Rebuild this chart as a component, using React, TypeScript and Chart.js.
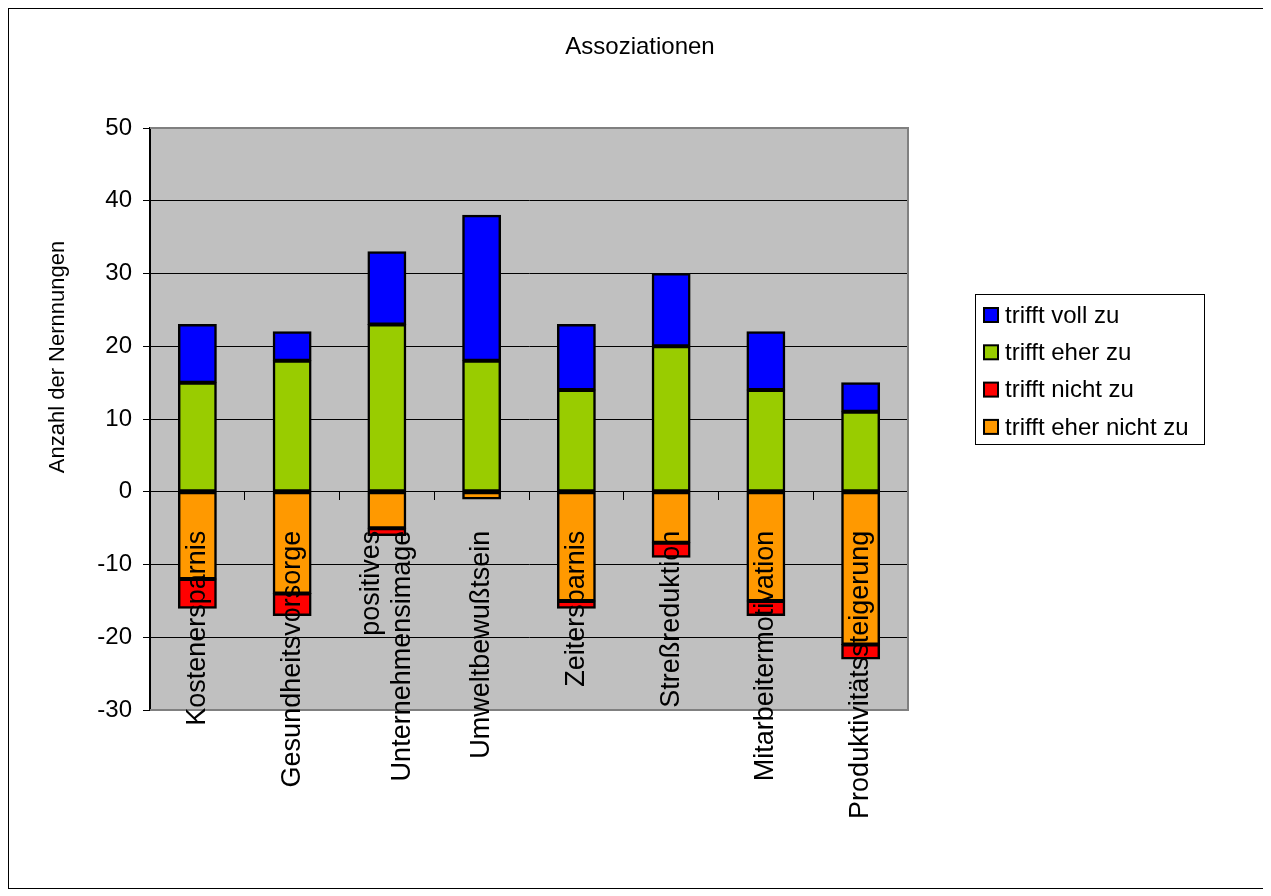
import React, { useEffect, useRef } from 'react';
import { Chart, registerables } from 'chart.js';

Chart.register(...registerables);

const FONT = "'Liberation Sans', Arial, Helvetica, sans-serif";

const chartTitle = 'Assoziationen';
const yAxisTitle = 'Anzahl der Nernnungen';

const categories: string[][] = [
  ['Kostenersparnis'],
  ['Gesundheitsvorsorge'],
  ['positives', 'Unternehmensimage'],
  ['Umweltbewußtsein'],
  ['Zeitersparnis'],
  ['Streßreduktion'],
  ['Mitarbeitermotivation'],
  ['Produktivitätssteigerung'],
];

const trifftVollZu = [8, 4, 10, 20, 9, 10, 8, 4];
const trifftEherZu = [15, 18, 23, 18, 14, 20, 14, 11];
const trifftNichtZu = [-4, -3, -1, 0, -1, -2, -2, -2];
const trifftEherNichtZu = [-12, -14, -5, -1, -15, -7, -15, -21];

const yMin = -30;
const yMax = 50;
const yStep = 10;

const seriesNames = ['trifft eher nicht zu', 'trifft nicht zu', 'trifft eher zu', 'trifft voll zu'];
const seriesColors = ['#FF9900', '#FF0000', '#99CC00', '#0000FF'];

const decorPlugin = {
  id: 'decor',
  beforeDraw(chart: any) {
    const { ctx, chartArea: a } = chart;
    ctx.save();
    ctx.fillStyle = '#C0C0C0';
    ctx.fillRect(a.left, a.top, a.right - a.left, a.bottom - a.top);
    ctx.restore();
  },
  beforeDatasetsDraw(chart: any) {
    const { ctx, chartArea: a } = chart;
    ctx.save();
    ctx.strokeStyle = '#808080';
    ctx.lineWidth = 2;
    ctx.beginPath();
    ctx.moveTo(a.left, a.top);
    ctx.lineTo(a.right, a.top);
    ctx.lineTo(a.right, a.bottom);
    ctx.lineTo(a.left, a.bottom);
    ctx.stroke();
    ctx.restore();
  },
  afterDatasetsDraw(chart: any) {
    const { ctx } = chart;
    const xs = chart.scales.x;
    const ys = chart.scales.y;
    const y0 = ys.getPixelForValue(0) + 39;
    ctx.save();
    ctx.fillStyle = '#000';
    ctx.font = `27px ${FONT}`;
    ctx.textAlign = 'right';
    ctx.textBaseline = 'middle';
    categories.forEach((lines, i) => {
      const x = xs.getPixelForValue(i);
      ctx.save();
      ctx.translate(x, y0);
      ctx.rotate(-Math.PI / 2);
      lines.forEach((ln, j) => {
        ctx.fillText(ln, 0, (j - (lines.length - 1) / 2) * 31);
      });
      ctx.restore();
    });

    // y-axis title
    ctx.save();
    ctx.font = `22px ${FONT}`;
    ctx.textAlign = 'center';
    ctx.textBaseline = 'middle';
    ctx.translate(49, 348);
    ctx.rotate(-Math.PI / 2);
    ctx.fillText(yAxisTitle, 0, 0);
    ctx.restore();

    // chart title
    ctx.font = `24px ${FONT}`;
    ctx.textAlign = 'center';
    ctx.textBaseline = 'middle';
    ctx.fillText(chartTitle, 631, 38.5);

    // legend
    ctx.strokeStyle = '#000';
    ctx.lineWidth = 1;
    ctx.strokeRect(966.5, 285.5, 229, 150);
    const ds = chart.data.datasets.slice().reverse();
    ctx.font = `24px ${FONT}`;
    ctx.textAlign = 'left';
    ds.forEach((d: any, i: number) => {
      const cy = 306 + i * 37.3;
      ctx.fillStyle = '#000';
      ctx.fillRect(974, cy - 8, 16, 16);
      ctx.fillStyle = d.backgroundColor;
      ctx.fillRect(976, cy - 6, 12, 12);
      ctx.fillStyle = '#000';
      ctx.fillText(d.label, 996, cy + 1);
    });
    ctx.restore();
  },
};

export default function App() {
  const ref = useRef<HTMLCanvasElement>(null);
  useEffect(() => {
    const values = [trifftEherNichtZu, trifftNichtZu, trifftEherZu, trifftVollZu];
    const chart = new Chart(ref.current!, {
      type: 'bar',
      data: {
        labels: categories.map((c) => c.join(' ')),
        datasets: values.map((v, i) => ({
          label: seriesNames[i],
          data: v,
          backgroundColor: seriesColors[i],
          borderColor: '#000',
          borderWidth: 2.5,
          inflateAmount: 0.5,
          borderSkipped: false,
          categoryPercentage: 1,
          barPercentage: 0.4,
        })),
      },
      options: {
        responsive: false,
        animation: false,
        events: [],
        layout: { padding: { top: 119, right: 355, bottom: 178, left: 0 } },
        font: { family: FONT },
        plugins: {
          legend: { display: false },
          title: { display: false },
          tooltip: { enabled: false },
        },
        scales: {
          x: {
            type: 'category',
            stacked: true,
            position: { y: 0 },
            offset: true,
            ticks: { display: false },
            grid: {
              drawOnChartArea: false,
              drawTicks: true,
              tickLength: 8,
              offset: true,
              color: '#000',
              lineWidth: 1,
            },
            border: { display: true, color: '#000', width: 1 },
          },
          y: {
            stacked: true,
            min: yMin,
            max: yMax,
            ticks: {
              stepSize: yStep,
              font: { size: 24, family: FONT },
              color: '#000',
              padding: 11,
            },
            grid: { color: '#000', lineWidth: 1, tickLength: 7, drawTicks: true },
            border: { display: true, color: '#000', width: 2 },
            afterFit: (s: any) => {
              s.width = 141;
            },
          },
        },
      } as any,
      plugins: [decorPlugin],
    });
    return () => chart.destroy();
  }, []);
  return (
    <div style={{ width: 1254, height: 879, border: '1px solid #000' }}>
      <canvas ref={ref} width={1254} height={879} style={{ display: 'block', width: 1254, height: 879 }} />
    </div>
  );
}
